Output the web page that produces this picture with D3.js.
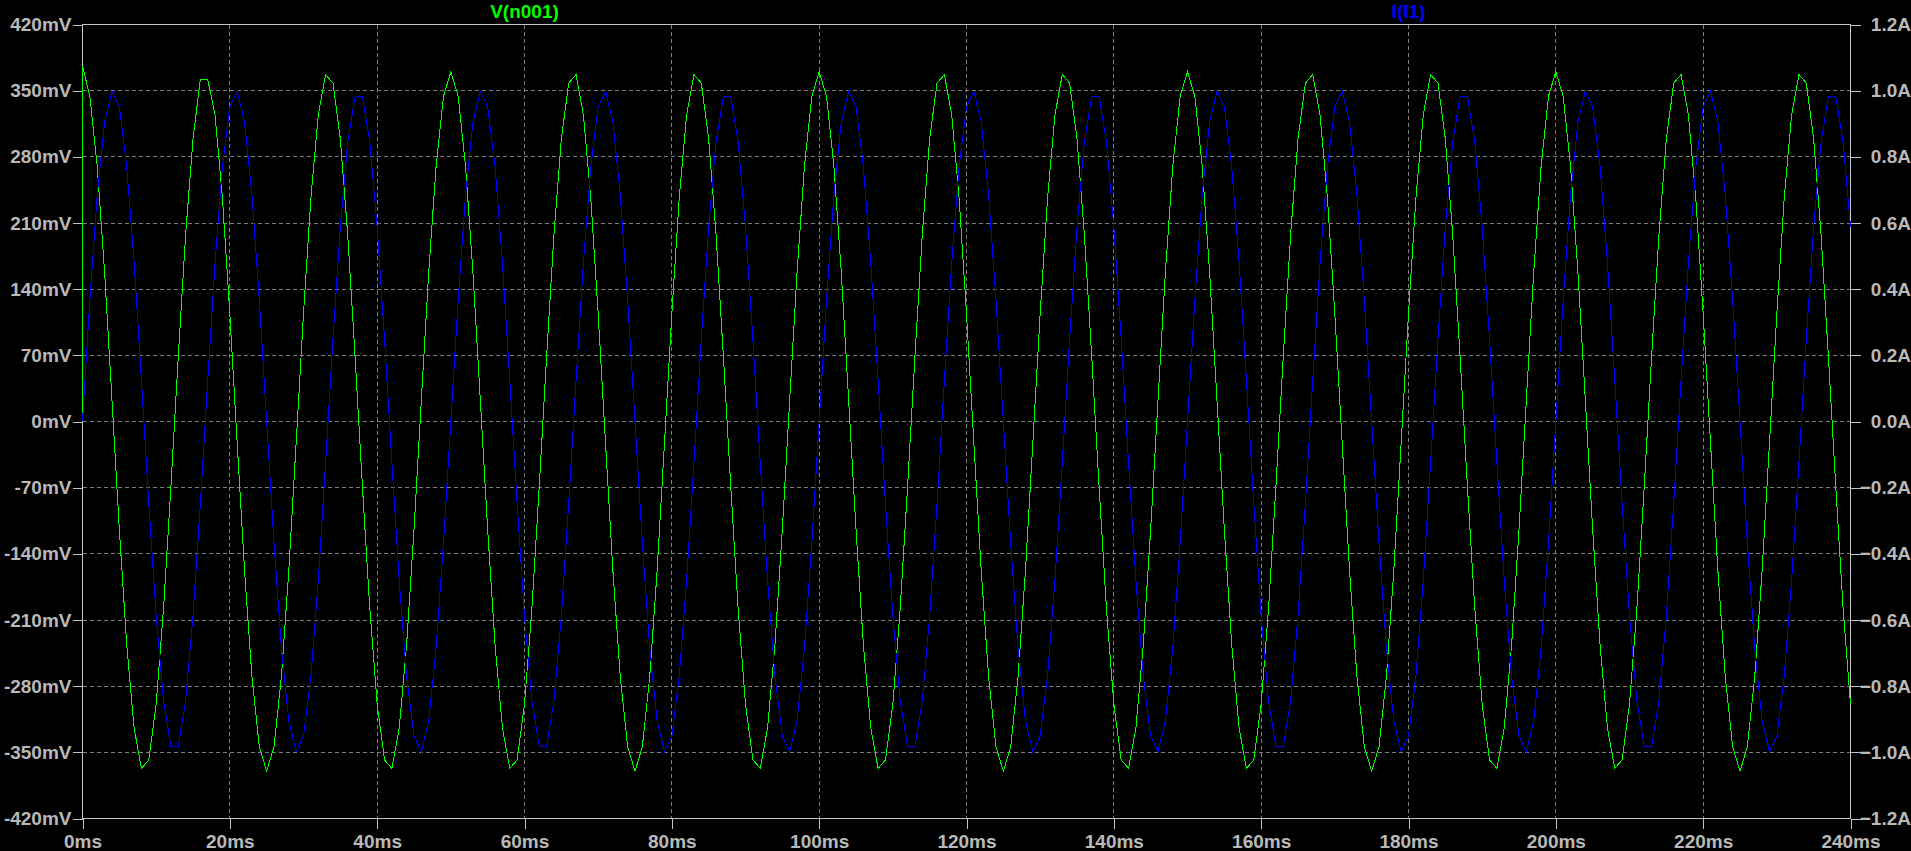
<!DOCTYPE html>
<html>
<head>
<meta charset="utf-8">
<script src="https://cdn.jsdelivr.net/npm/d3@7"></script>
<style>
  html, body { margin: 0; padding: 0; background: #000; overflow: hidden; }
  svg { display: block; }
  text { font-family: "Liberation Sans", Arial, sans-serif; font-weight: bold; }
</style>
</head>
<body>
<svg id="chart" width="1911" height="851"></svg>
<script>
// ---- data ----
const timeTicksMs = [0, 20, 40, 60, 80, 100, 120, 140, 160, 180, 200, 220, 240];
const voltTicksMv = [-420, -350, -280, -210, -140, -70, 0, 70, 140, 210, 280, 350, 420];
const currTicksA = [-1.2, -1.0, -0.8, -0.6, -0.4, -0.2, 0.0, 0.2, 0.4, 0.6, 0.8, 1.0, 1.2];
const seriesNames = ["V(n001)", "I(I1)"];
const sampleStepMs = 1;
const vOpPointMv = 0; // operating point value at t = 0 before the first step

// V(n001) in mV, one sample per ms from 0 to 240 ms
const vN001 = [
  376,344,270,158,23,-114,-236,-324,-367,-358,-299,-198,-69,69,198,299,362,362,324,236,114,-23,-158,-270,-344,-370,-344,-270,-158,-23,114,236,324,367,358,299,198,69,-69,-198,-299,-358,-367,-324,-236,-114,23,158,270,344,
  370,344,270,158,23,-114,-236,-324,-367,-358,-299,-198,-69,69,198,299,358,367,324,236,114,-23,-158,-270,-344,-370,-344,-270,-158,-23,114,236,324,367,358,299,198,69,-69,-198,-299,-358,-367,-324,-236,-114,23,158,270,344,
  370,344,270,158,23,-114,-236,-324,-367,-358,-299,-198,-69,69,198,299,358,367,324,236,114,-23,-158,-270,-344,-370,-344,-270,-158,-23,114,236,324,367,358,299,198,69,-69,-198,-299,-358,-367,-324,-236,-114,23,158,270,344,
  370,344,270,158,23,-114,-236,-324,-367,-358,-299,-198,-69,69,198,299,358,367,324,236,114,-23,-158,-270,-344,-370,-344,-270,-158,-23,114,236,324,367,358,299,198,69,-69,-198,-299,-358,-367,-324,-236,-114,23,158,270,344,
  370,344,270,158,23,-114,-236,-324,-367,-358,-299,-198,-69,69,198,299,358,367,324,236,114,-23,-158,-270,-344,-370,-344,-270,-158,-23,114,236,324,367,358,299,198,69,-69,-198,-299
];

// I(I1) in A, one sample per ms from 0 to 240 ms
const iI1 = [
  0,0.368,0.685,0.905,0.998,0.951,0.771,0.482,0.125,-0.249,-0.588,-0.844,-0.982,-0.982,-0.844,-0.588,-0.249,0.125,0.482,0.771,0.951,0.998,0.905,0.685,0.368,0,-0.368,-0.685,-0.905,-0.998,-0.951,-0.771,-0.482,-0.125,0.249,0.588,0.844,0.982,0.982,0.844,0.588,0.249,-0.125,-0.482,-0.771,-0.951,-0.998,-0.905,-0.685,-0.368,
  0,0.368,0.685,0.905,0.998,0.951,0.771,0.482,0.125,-0.249,-0.588,-0.844,-0.982,-0.982,-0.844,-0.588,-0.249,0.125,0.482,0.771,0.951,0.998,0.905,0.685,0.368,0,-0.368,-0.685,-0.905,-0.998,-0.951,-0.771,-0.482,-0.125,0.249,0.588,0.844,0.982,0.982,0.844,0.588,0.249,-0.125,-0.482,-0.771,-0.951,-0.998,-0.905,-0.685,-0.368,
  0,0.368,0.685,0.905,0.998,0.951,0.771,0.482,0.125,-0.249,-0.588,-0.844,-0.982,-0.982,-0.844,-0.588,-0.249,0.125,0.482,0.771,0.951,0.998,0.905,0.685,0.368,0,-0.368,-0.685,-0.905,-0.998,-0.951,-0.771,-0.482,-0.125,0.249,0.588,0.844,0.982,0.982,0.844,0.588,0.249,-0.125,-0.482,-0.771,-0.951,-0.998,-0.905,-0.685,-0.368,
  0,0.368,0.685,0.905,0.998,0.951,0.771,0.482,0.125,-0.249,-0.588,-0.844,-0.982,-0.982,-0.844,-0.588,-0.249,0.125,0.482,0.771,0.951,0.998,0.905,0.685,0.368,0,-0.368,-0.685,-0.905,-0.998,-0.951,-0.771,-0.482,-0.125,0.249,0.588,0.844,0.982,0.982,0.844,0.588,0.249,-0.125,-0.482,-0.771,-0.951,-0.998,-0.905,-0.685,-0.368,
  0,0.368,0.685,0.905,0.998,0.951,0.771,0.482,0.125,-0.249,-0.588,-0.844,-0.982,-0.982,-0.844,-0.588,-0.249,0.125,0.482,0.771,0.951,0.998,0.905,0.685,0.368,0,-0.368,-0.685,-0.905,-0.998,-0.951,-0.771,-0.482,-0.125,0.249,0.588,0.844,0.982,0.982,0.844,0.588
];

// ---- layout ----
const L = 82.5, R = 1850.5, T = 24.5, B = 818.5;
const frameColor = "#c4c4c4";
const gridColor = "#7c7c7c";
const textColor = "#b9b9b9";
const vColor = "#00ff00";
const iColor = "#0000ff";
const fontSize = 19;

const svg = d3.select("#chart");
svg.append("rect").attr("width", 1911).attr("height", 851).attr("fill", "#000");

const x = d3.scaleLinear().domain([0, 240]).range([L, R]);
const yV = d3.scaleLinear().domain([-420, 420]).range([B, T]);
const yI = d3.scaleLinear().domain([-1.2, 1.2]).range([B, T]);

// grid
const grid = svg.append("g").attr("stroke", gridColor).attr("stroke-width", 1)
  .attr("stroke-dasharray", "4,3").attr("shape-rendering", "crispEdges");
grid.selectAll("line.v").data(timeTicksMs.slice(1, -1)).join("line")
  .attr("x1", d => x(d)).attr("x2", d => x(d)).attr("y1", T).attr("y2", B);
grid.selectAll("line.h").data(voltTicksMv.slice(1, -1)).join("line")
  .attr("x1", L).attr("x2", R).attr("y1", d => yV(d)).attr("y2", d => yV(d));

// axes
function styleAxis(g) {
  g.select(".domain").remove();
  g.selectAll(".tick line").attr("stroke", frameColor).attr("shape-rendering", "crispEdges");
  g.selectAll(".tick text").attr("fill", textColor)
    .style("font-size", fontSize + "px").style("font-weight", "bold")
    .style("font-family", '"Liberation Sans", Arial, sans-serif');
}

const axL = svg.append("g").attr("transform", `translate(${L},0)`)
  .call(d3.axisLeft(yV).tickValues(voltTicksMv).tickSize(10).tickPadding(1)
    .tickFormat(d => d + "mV"));
styleAxis(axL);

const axR = svg.append("g").attr("transform", `translate(${R},0)`)
  .call(d3.axisRight(yI).tickValues(currTicksA).tickSize(10).tickPadding(0)
    .tickFormat(d => d3.format(".1f")(d) + "A"));
styleAxis(axR);
axR.selectAll(".tick text").attr("text-anchor", "end").attr("x", 1911 - R);

const axB = svg.append("g").attr("transform", `translate(0,${B})`)
  .call(d3.axisBottom(x).tickValues(timeTicksMs).tickSize(10).tickPadding(6)
    .tickFormat(d => d + "ms"));
styleAxis(axB);

// frame
svg.append("rect").attr("x", L).attr("y", T).attr("width", R - L).attr("height", B - T)
  .attr("fill", "none").attr("stroke", frameColor).attr("shape-rendering", "crispEdges");

// traces
const clip = svg.append("clipPath").attr("id", "plotclip").append("rect")
  .attr("x", L - 1).attr("y", T).attr("width", R - L + 2).attr("height", B - T);

const vPoints = [[0, vOpPointMv]].concat(vN001.map((v, k) => [k * sampleStepMs, v]));
const iPoints = iI1.map((v, k) => [k * sampleStepMs, v]);

const plot = svg.append("g").attr("clip-path", "url(#plotclip)");
plot.append("path")
  .attr("d", d3.line().x(d => x(d[0])).y(d => yV(d[1]))(vPoints))
  .attr("fill", "none").attr("stroke", vColor).attr("stroke-width", 1)
  .attr("shape-rendering", "crispEdges");
plot.append("path")
  .attr("d", d3.line().x(d => x(d[0])).y(d => yI(d[1]))(iPoints))
  .attr("fill", "none").attr("stroke", iColor).attr("stroke-width", 1)
  .attr("shape-rendering", "crispEdges");

// trace titles
const titleColors = [vColor, iColor];
svg.selectAll("text.title").data(seriesNames).join("text")
  .attr("class", "title")
  .attr("x", (d, i) => L + (R - L) * (i === 0 ? 0.25 : 0.75))
  .attr("y", 18)
  .attr("text-anchor", "middle")
  .attr("fill", (d, i) => titleColors[i])
  .style("font-size", "19px")
  .text(d => d);
</script>
</body>
</html>
